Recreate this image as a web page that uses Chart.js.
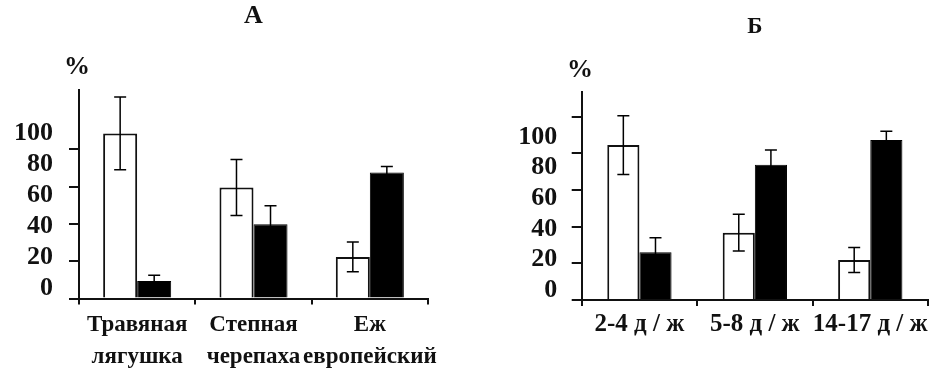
<!DOCTYPE html>
<html>
<head>
<meta charset="utf-8">
<script src="https://cdn.jsdelivr.net/npm/chart.js@4/dist/chart.umd.min.js"></script>
<style>
  body { margin: 0; background: #fff; }
  #wrap { position: relative; width: 930px; height: 371px; overflow: hidden; }
  canvas { position: absolute; top: 0; }
  #chartA { left: 0; }
  #chartB { left: 465px; }
  .pct { position: absolute; font: bold 26px "Liberation Serif", serif; line-height: 26px; color: #111; }
</style>
</head>
<body>
<div id="wrap">
  <canvas id="chartA" width="465" height="371"></canvas>
  <canvas id="chartB" width="465" height="371"></canvas>
  <div class="pct" style="left:64px; top:53px;">%</div>
  <div class="pct" style="left:567px; top:56px;">%</div>
</div>
<script>
// panel A: species
const catsA = [['Травяная', 'лягушка'], ['Степная', 'черепаха'], ['Еж', 'европейский']];
const whiteA = [88.5, 59.5, 22.3];
const whiteErrA = [19.5, 15, 8];
const blackA = [9.4, 39.8, 67.6];
const blackErrA = [3, 10, 3.2];

// panel B: age groups
const catsB = ['2-4 д / ж', '5-8 д / ж', '14-17 д / ж'];
const whiteB = [84.5, 36.7, 21.8];
const whiteErrB = [16, 10, 6.8];
const blackB = [26, 73.8, 87.3];
const blackErrB = [8, 8, 4.7];

const tickLabels = [0, 20, 40, 60, 80, 100];
const tickMarksA = [0, 20, 40, 60, 80];
const tickMarksB = [0, 20, 40, 60, 80, 100];

const ink = '#111';
const serif = '"Liberation Serif", "Times New Roman", serif';

// draws the error bars on top of the bars
const errorBars = {
    id: 'errorBars',
    afterDatasetsDraw(chart) {
        const ctx = chart.ctx;
        const y = chart.scales.y;
        chart.data.datasets.forEach((ds, i) => {
            const meta = chart.getDatasetMeta(i);
            meta.data.forEach((bar, j) => {
                const v = ds.data[j], e = ds.errors[j];
                const top = y.getPixelForValue(v + e);
                const bot = y.getPixelForValue(v - e);
                ctx.save();
                ctx.strokeStyle = '#000';
                ctx.lineWidth = 1.5;
                ctx.beginPath();
                ctx.moveTo(bar.x, top); ctx.lineTo(bar.x, bot);
                ctx.moveTo(bar.x - 6, top); ctx.lineTo(bar.x + 6, top);
                ctx.moveTo(bar.x - 6, bot); ctx.lineTo(bar.x + 6, bot);
                ctx.stroke();
                ctx.restore();
            });
        });
    }
};

function makeChart(id, o) {
    new Chart(document.getElementById(id), {
        type: 'bar',
        data: {
            labels: o.cats,
            datasets: [
                {
                    data: o.white, errors: o.whiteErr,
                    backgroundColor: '#fff', borderColor: ink, borderWidth: 2,
                    categoryPercentage: o.catPct, barPercentage: 1
                },
                {
                    data: o.black, errors: o.blackErr,
                    backgroundColor: '#000', borderColor: '#000', borderWidth: 1,
                    categoryPercentage: o.catPct, barPercentage: 1
                }
            ]
        },
        options: {
            responsive: false,
            animation: false,
            layout: { padding: { left: 0, right: o.padRight, top: 0, bottom: 0 } },
            plugins: {
                legend: { display: false },
                tooltip: { enabled: false },
                title: {
                    display: true, text: o.title, fullSize: false, color: ink,
                    font: { family: serif, size: o.titleSize, weight: 'bold', lineHeight: 1.2 },
                    padding: { top: o.titleTop, bottom: o.titleBottom }
                }
            },
            scales: {
                x: {
                    grid: { offset: true, drawOnChartArea: false, tickLength: 6, color: ink, lineWidth: 2 },
                    border: { color: ink, width: 2 },
                    ticks: {
                        color: ink, padding: o.xPad, autoSkip: false, maxRotation: 0,
                        font: { family: serif, size: o.xFont, weight: 'bold', lineHeight: o.xLine }
                    },
                    afterFit: s => { s.height = o.xHeight; }
                },
                y: {
                    position: 'left', weight: 0,
                    min: 0, max: o.yMax,
                    grid: { drawOnChartArea: false, tickLength: 10, color: ink, lineWidth: 2 },
                    border: { color: ink, width: 2 },
                    ticks: { display: false },
                    afterBuildTicks: s => { s.ticks = o.marks.map(v => ({ value: v })); },
                    afterFit: s => { s.width = 10; }
                },
                yl: {
                    position: 'left', weight: 1,
                    min: o.lblMin, max: o.lblMax,
                    grid: { display: false, drawTicks: false },
                    border: { display: false },
                    ticks: {
                        color: ink, padding: o.yPad,
                        font: { family: serif, size: 26, weight: 'bold' }
                    },
                    afterBuildTicks: s => { s.ticks = tickLabels.map(v => ({ value: v })); },
                    afterFit: s => { s.width = o.lblWidth; }
                }
            }
        },
        plugins: [errorBars]
    });
}

makeChart('chartA', {
    cats: catsA, white: whiteA, whiteErr: whiteErrA, black: blackA, blackErr: blackErrA,
    marks: tickMarksA, catPct: 0.585, padRight: 37,
    title: 'А', titleSize: 26, titleTop: 0.4, titleBottom: 58.4,
    xPad: 5, xFont: 23, xLine: 1.39, xHeight: 72.5,
    yMax: 111.8, lblMin: -6.58, lblMax: 127.9, lblWidth: 69, yPad: 16
});

makeChart('chartB', {
    cats: catsB, white: whiteB, whiteErr: whiteErrB, black: blackB, blackErr: blackErrB,
    marks: tickMarksB, catPct: 0.557, padRight: 2,
    title: 'Б', titleSize: 23, titleTop: 13.2, titleBottom: 50.9,
    xPad: 2, xFont: 25, xLine: 1.33, xHeight: 71,
    yMax: 113.6, lblMin: -6.54, lblMax: 129.6, lblWidth: 106.7, yPad: 14.4
});
</script>
</body>
</html>
